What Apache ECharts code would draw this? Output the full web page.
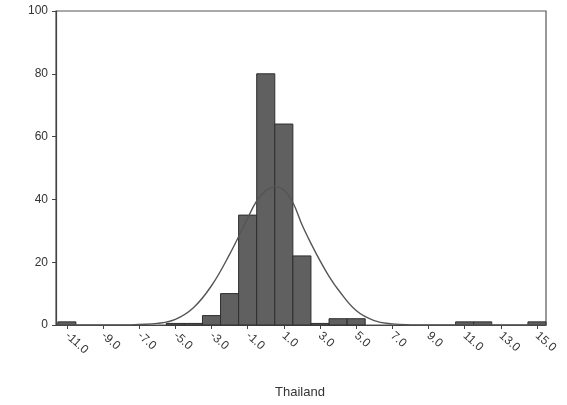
<!DOCTYPE html>
<html>
<head>
<meta charset="utf-8">
<script src="https://cdn.jsdelivr.net/npm/echarts@6/dist/echarts.min.js"></script>
<style>html,body{margin:0;padding:0;background:#fff}#c{width:567px;height:405px}</style>
</head>
<body>
<div id="c"></div>
<script>
// Histogram bin centres (width 1) and counts
var binCenters = [-11,-10,-9,-8,-7,-6,-5,-4,-3,-2,-1,0,1,2,3,4,5,6,7,8,9,10,11,12,13,14,15];
var binCounts  = [1,0,0,0,0,0,0.5,0.5,3,10,35,80,64,22,0.5,2,2,0,0,0,0,0,1,1,0,0,1];
// Normal curve
var curveX = [-11.5,-9,-7.5,-7,-6,-5,-4,-3,-2,-1,-0.5,0,0.5,1,1.5,2,2.5,3,3.5,4,5,6,7,8,9,11,13,15.5];
var curveY = [0,0,0.05,0.15,0.5,1.8,5.5,12.5,22.5,34,39.5,42.8,44,43,39,32,26,20.5,15.5,11.3,4.6,1.4,0.35,0.05,0,0,0,0];
var xTicks = [-11,-9,-7,-5,-3,-1,1,3,5,7,9,11,13,15];
var yTicks = [0,20,40,60,80,100];

var barData = binCenters.map(function(x,i){return [x, binCounts[i]];});
var lineData = curveX.map(function(x,i){return [x, curveY[i]];});

var chart = echarts.init(document.getElementById('c'), null, {renderer:'canvas'});
chart.setOption({
  animation:false,
  backgroundColor:'#fff',
  title:{text:'Thailand', left:270, top:381,
    textStyle:{fontFamily:'Liberation Sans, Arial', fontSize:13, fontWeight:'normal', color:'#333'}},
  grid:{left:56, top:11, right:21, bottom:80, show:true, borderColor:'#555', borderWidth:1.2, backgroundColor:'#fff'},
  xAxis:{type:'value', min:-11.6, max:15.5,
    axisLine:{show:true, onZero:false, lineStyle:{color:'#444', width:1.2}},
    splitLine:{show:false},
    axisTick:{show:true, customValues:xTicks, length:4, lineStyle:{color:'#444'}},
    axisLabel:{customValues:xTicks, rotate:-42, margin:9, fontFamily:'Liberation Sans, Arial', fontSize:12, color:'#333',
      formatter:function(v){return v.toFixed(1);}}
  },
  yAxis:{type:'value', min:0, max:100, interval:20,
    axisLine:{show:true, onZero:false, lineStyle:{color:'#444', width:1.2}},
    splitLine:{show:false},
    axisTick:{show:true, length:4, lineStyle:{color:'#444'}},
    axisLabel:{margin:8, fontFamily:'Liberation Sans, Arial', fontSize:12, color:'#333',
      customValues:yTicks, formatter:function(v){return String(v);}}
  },
  series:[
    {type:'custom', data:barData, renderItem:function(params, api){
        var x = api.value(0), v = api.value(1);
        if (v <= 0) return null;
        var p0 = api.coord([x-0.5, v]);
        var p1 = api.coord([x+0.5, 0]);
        return {type:'rect', shape:{x:p0[0], y:p0[1], width:p1[0]-p0[0], height:p1[1]-p0[1]},
          style:{fill:'#606060', stroke:'#2e2e2e', lineWidth:1}};
      }, encode:{x:0, y:1}, z:2},
    {type:'line', data:lineData, smooth:0.4, showSymbol:false, symbol:'none',
      lineStyle:{color:'#555', width:1.4}, z:3}
  ]
});
</script>
</body>
</html>
